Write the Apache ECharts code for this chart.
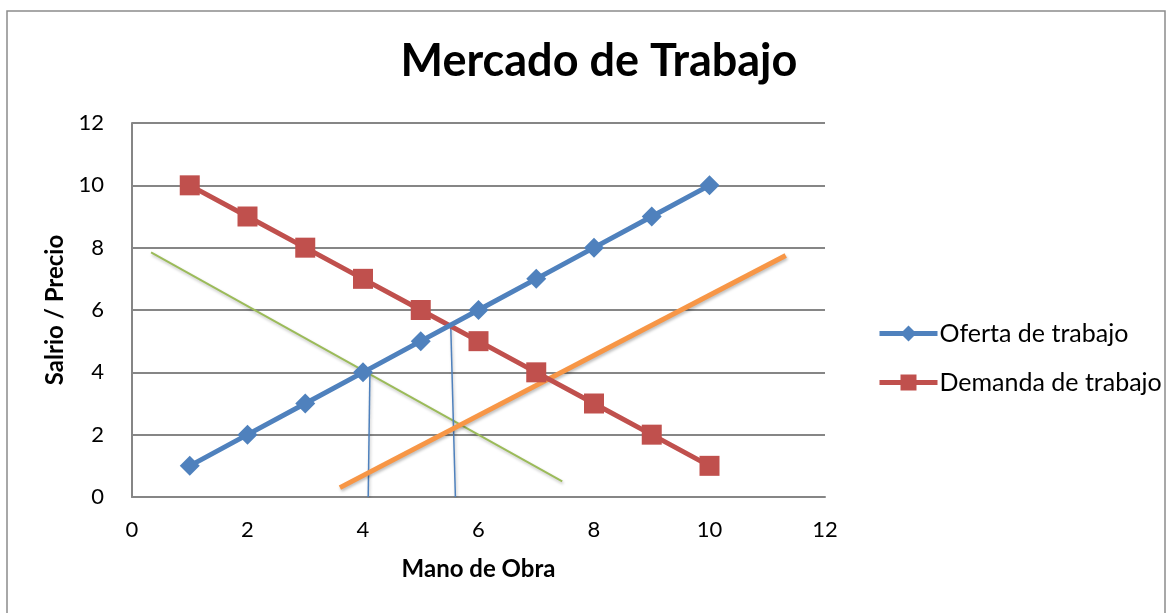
<!DOCTYPE html>
<html><head><meta charset="utf-8">
<script src="https://cdn.jsdelivr.net/npm/echarts@6/dist/echarts.min.js"></script>
<style>html,body{margin:0;padding:0;background:#fff}#c{width:1172px;height:613px}</style>
</head><body><div id="c"></div>
<script>
var xValues = [1,2,3,4,5,6,7,8,9,10];
var oferta = [1,2,3,4,5,6,7,8,9,10];
var demanda = [10,9,8,7,6,5,4,3,2,1];
var greenLine = [[0.33,7.85],[7.45,0.5]];
var orangeLine = [[3.6,0.3],[11.32,7.75]];
var blueV1 = [[4.12,4.0],[4.09,0]];
var blueV2 = [[5.52,5.45],[5.6,0]];
var xTicks = [0,2,4,6,8,10,12];
var yTicks = [0,2,4,6,8,10,12];

var font = 'Lato, "Open Sans", sans-serif';
var chart = echarts.init(document.getElementById('c'));
function pairs(xs, ys){ return xs.map(function(x,i){return [x, ys[i]];}); }
var thin = function(data, color, w){
  return {type:'line', data:data, symbol:'none', silent:true, z:1,
    lineStyle:{color:color, width:w, shadowColor:'rgba(0,0,0,0.25)', shadowBlur:3, shadowOffsetX:1, shadowOffsetY:2}};
};
chart.setOption({
  animation:false,
  graphic:[{type:'rect', shape:{x:7,y:11,width:1158,height:610}, style:{fill:'none', stroke:'#8c8c8c', lineWidth:1.5}}],
  title:{text:'Mercado de Trabajo', left:594, top:34, textAlign:'center',
    textStyle:{fontFamily:font, fontWeight:'bold', fontSize:45, color:'#000'}},
  legend:{data:['Oferta de trabajo','Demanda de trabajo'], orient:'vertical', left:872, top:316, itemGap:24,
    itemWidth:58, itemHeight:20, lineStyle:{width:5},
    textStyle:{fontFamily:font, fontSize:25, color:'#000', padding:[0,0,0,-3]}},
  grid:{left:132, right:347, top:123, bottom:116, containLabel:false},
  xAxis:{type:'value', min:0, max:12, interval:2, name:'Mano de Obra', nameLocation:'middle', nameGap:60,
    nameTextStyle:{fontFamily:font, fontWeight:'bold', fontSize:24, color:'#000'},
    axisLine:{show:true, lineStyle:{color:'#868686', width:2}}, axisTick:{show:false},
    axisLabel:{fontFamily:font, fontSize:22, color:'#000', margin:22, formatter:function(v){return xTicks.indexOf(v)>=0?String(v):'';}},
    splitLine:{show:false}},
  yAxis:{type:'value', min:0, max:12, interval:2, name:'Salrio / Precio', nameLocation:'middle', nameGap:60,
    nameTextStyle:{fontFamily:font, fontWeight:'bold', fontSize:24, color:'#000'},
    axisLine:{show:true, lineStyle:{color:'#868686', width:2}}, axisTick:{show:false},
    axisLabel:{fontFamily:font, fontSize:22, color:'#000', margin:28, formatter:function(v){return yTicks.indexOf(v)>=0?String(v):'';}},
    splitLine:{show:true, lineStyle:{color:'#868686', width:2}}},
  series:[
    thin(greenLine, '#9bbb59', 2),
    thin(blueV1, '#4f81bd', 1.5),
    thin(blueV2, '#4f81bd', 1.5),
    {type:'line', name:'Demanda de trabajo', data:pairs(xValues, demanda), symbol:'rect', symbolSize:20, z:3,
      itemStyle:{color:'#c0504d'}, lineStyle:{color:'#c0504d', width:5}},
    {type:'line', name:'Oferta de trabajo', data:pairs(xValues, oferta), symbol:'diamond', symbolSize:20, z:4,
      itemStyle:{color:'#4f81bd'}, lineStyle:{color:'#4f81bd', width:5}},
    thin(orangeLine, '#f79646', 5)
  ]
});
</script></body></html>
